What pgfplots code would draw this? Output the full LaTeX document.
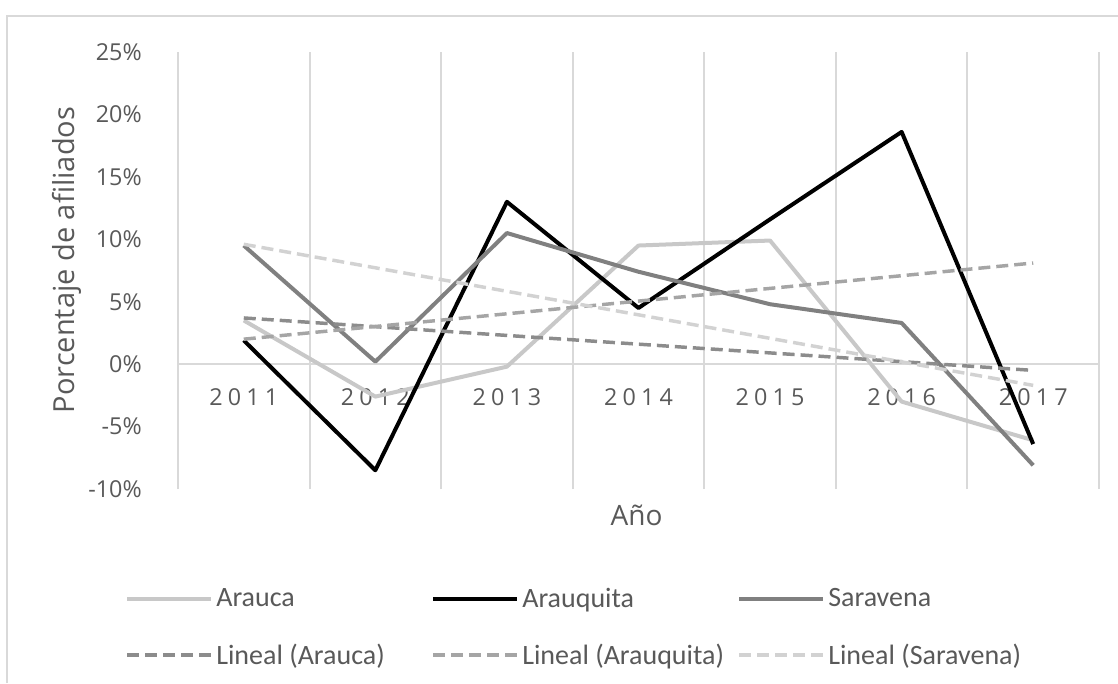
\documentclass[border=0pt]{standalone}
\usepackage{fontspec}
\setmainfont{Carlito}
\newfontfamily\osans{Open Sans}
\usepackage{pgfplots}
\pgfplotsset{compat=1.18}
\definecolor{txt}{RGB}{89,89,89}
\definecolor{gridc}{RGB}{217,217,217}
\definecolor{cArauca}{RGB}{200,200,200}
\definecolor{cSaravena}{RGB}{128,128,128}
\definecolor{tArauca}{RGB}{140,140,140}
\definecolor{tArauquita}{RGB}{165,165,165}
\definecolor{tSaravena}{RGB}{210,210,210}
\begin{document}
\begin{tikzpicture}[x=0.75pt,y=0.75pt]
\path[use as bounding box] (0,0) rectangle (1118,683);
\draw[gridc, line width=1.5pt] (7,0) -- (7,667) -- (1118,667);
\begin{axis}[
  at={(133.5pt,145.5pt)}, anchor=south west,
  scale only axis, width=690.75pt, height=327.75pt,
  xmin=0.5, xmax=7.5, ymin=-10, ymax=25,
  axis line style={draw=none},
  major tick length=0pt, minor tick length=0pt,
  xtick={1,2,3,4,5,6,7},
  xticklabels={2011,2012,2013,2014,2015,2016,2017},
  minor xtick={0.5,1.5,2.5,3.5,4.5,5.5,6.5,7.5},
  xminorgrids=true,
  minor x grid style={gridc, line width=1.5pt},
  ytick={-10,-5,0,5,10,15,20,25},
  yticklabels={-10\%,-5\%,0\%,5\%,10\%,15\%,20\%,25\%},
  extra y ticks={0}, extra y tick labels={},
  extra y tick style={grid=major, major grid style={gridc, line width=1.5pt}},
  xticklabel style={font=\osans\fontsize{17.5}{18}\selectfont\addfontfeature{LetterSpace=22}, text=txt, anchor=center, yshift=69pt},
  yticklabel style={font=\osans\fontsize{17.5}{18}\selectfont, text=txt, anchor=east, inner sep=0pt, xshift=-27pt},
  xlabel={Año}, ylabel={Porcentaje de afiliados},
  every axis x label/.style={at={(axis description cs:0.498,-0.0595)}, anchor=center, font=\osans\fontsize{21}{22}\selectfont, text=txt},
  every axis y label/.style={at={(axis description cs:-0.1205,0.524)}, anchor=center, rotate=90, font=\osans\fontsize{21.75}{22}\selectfont, text=txt},
  legend columns=3,
  legend style={at={(-0.0575,-0.226)}, anchor=north west, draw=none, fill=none, inner sep=0pt,
    font=\fontsize{21}{24}\selectfont, text=txt, row sep=26pt, column sep=0pt,
    nodes={inner sep=0pt}, cells={anchor=west}},
  legend image code/.code={\draw[#1] (0pt,0pt) -- (63pt,0pt);},
]
\addplot[cArauca, line width=3pt, line join=round] coordinates {(1,3.5) (2,-2.6) (3,-0.2) (4,9.5) (5,9.9) (6,-3.0) (7,-6.1)};
\addlegendentry{\makebox[163.5pt][l]{\hspace{2.25pt}Arauca}}
\addplot[black, line width=3pt, line join=round] coordinates {(1,1.9) (2,-8.5) (3,13.0) (4,4.5) (5,11.6) (6,18.6) (7,-6.4)};
\addlegendentry{\makebox[163.5pt][l]{\hspace{2.25pt}Arauquita}}
\addplot[cSaravena, line width=3pt, line join=round] coordinates {(1,9.5) (2,0.2) (3,10.5) (4,7.4) (5,4.8) (6,3.3) (7,-8.1)};
\addlegendentry{\makebox[163.5pt][l]{\hspace{2.25pt}Saravena}}
\addplot[tArauca, line width=2.6pt, dash pattern=on 9pt off 4.5pt] coordinates {(1,3.7) (7,-0.5)};
\addlegendentry{\makebox[163.5pt][l]{\hspace{2.25pt}Lineal (Arauca)}}
\addplot[tArauquita, line width=2.6pt, dash pattern=on 9pt off 4.5pt] coordinates {(1,2.0) (7,8.1)};
\addlegendentry{\makebox[163.5pt][l]{\hspace{2.25pt}Lineal (Arauquita)}}
\addplot[tSaravena, line width=2.6pt, dash pattern=on 9pt off 4.5pt] coordinates {(1,9.6) (7,-1.7)};
\addlegendentry{\makebox[163.5pt][l]{\hspace{2.25pt}Lineal (Saravena)}}
\end{axis}
\end{tikzpicture}
\end{document}
